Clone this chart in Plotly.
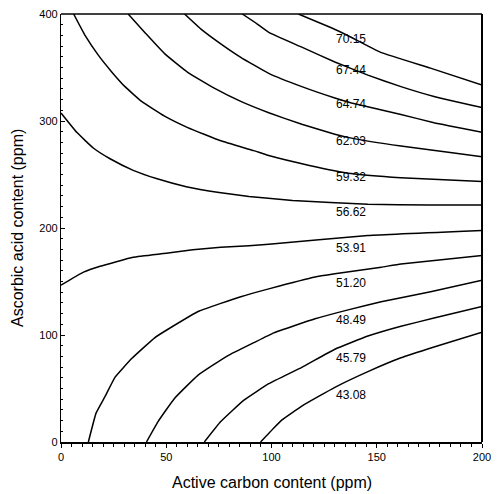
import plotly.graph_objects as go

# Contour levels (labels, top to bottom)
levels = ["70.15", "67.44", "64.74", "62.03", "59.32", "56.62",
          "53.91", "51.20", "48.49", "45.79", "43.08"]

# Contour lines (x = active carbon, y = ascorbic acid)
c7015_x = [112.8, 128.4, 136.4, 151.9, 175.5, 200]
c7015_y = [400, 387.1, 379.7, 364.1, 349.4, 333.7]

c6744_x = [86.1, 93.1, 98.7, 114.4, 130.1, 145.8, 161.5, 177.2, 200]
c6744_y = [400, 390.8, 382.8, 369.0, 355.2, 342.9, 332.1, 322.9, 312.5]

c6474_x = [58.7, 66.5, 75.9, 85.4, 98.7, 114.4, 130.1, 138.0, 161.5, 177.2, 200]
c6474_y = [400, 385.9, 372.1, 359.5, 344.5, 332.1, 321.5, 316.9, 306.1, 298.4, 289.5]

c6203_x = [31.9, 39.8, 49.2, 60.2, 72.8, 85.4, 98.7, 114.4, 130.1, 138.0, 161.5, 186.7, 200]
c6203_y = [400, 382.8, 363.0, 345.5, 330.7, 318.3, 307.7, 296.9, 287.7, 284.0, 276.6, 270.2, 266.5]

c5932_x = [6.0, 11.5, 17.8, 24.1, 30.4, 38.3, 49.2, 60.2, 75.9, 91.6, 98.7, 118.0, 137.8, 161.4, 200]
c5932_y = [400, 379.7, 361.3, 345.9, 332.1, 318.3, 304.5, 293.8, 281.5, 272.3, 267.7, 258.5, 250.9, 246.9, 243.5]

c5662_x = [0, 7.6, 15.5, 23.3, 34.3, 45.3, 59.5, 75.1, 89.3, 110.0, 145.8, 175.0, 200]
c5662_y = [307.5, 289.2, 274.5, 264.7, 253.9, 246.2, 238.6, 233.1, 229.5, 225.8, 222.3, 221.5, 221.4]

c5391_x = [0, 10.7, 18.6, 34.3, 50.0, 62.6, 75.9, 89.3, 98.7, 145.8, 200]
c5391_y = [146.6, 158.8, 164.3, 172.6, 176.3, 179.7, 182.0, 183.4, 184.8, 193.0, 197.7]

c5120_x = [13.0, 16.7, 21.0, 25.7, 33.7, 44.5, 51.6, 65.7, 85.4, 98.7, 120.7, 130.1, 152.1, 161.5, 200]
c5120_y = [0, 27.2, 42.8, 60.6, 78.2, 97.4, 106.3, 122.4, 135.8, 143.1, 154.2, 157.2, 163.4, 166.4, 174.3]

c4849_x = [40.6, 46.1, 53.9, 64.9, 79.1, 91.6, 101.1, 120.7, 136.4, 152.1, 175.6, 200]
c4849_y = [0, 19.1, 40.7, 62.1, 80.5, 92.8, 102.0, 115.1, 123.5, 131.0, 140.5, 151.2]

c4579_x = [68.1, 75.9, 86.9, 98.7, 114.4, 130.1, 145.8, 161.5, 177.2, 200]
c4579_y = [0, 19.1, 39.1, 54.5, 69.8, 86.7, 99.0, 108.2, 115.8, 126.6]

c4308_x = [94.8, 101.1, 105.0, 114.4, 130.1, 145.8, 161.5, 177.2, 200]
c4308_y = [0, 13.1, 20.7, 33.6, 51.1, 65.8, 78.7, 88.8, 102.6]

# Contour label anchors
label_x = 138.0
label_y = [377.0, 347.5, 316.2, 281.2, 248.1, 214.9, 181.3, 148.7, 113.7, 78.7, 43.7]

x_ticks = [0, 50, 100, 150, 200]
y_ticks = [0, 100, 200, 300, 400]
x_title = "Active carbon content (ppm)"
y_title = "Ascorbic acid content (ppm)"

lines = [(c7015_x, c7015_y), (c6744_x, c6744_y), (c6474_x, c6474_y),
         (c6203_x, c6203_y), (c5932_x, c5932_y), (c5662_x, c5662_y),
         (c5391_x, c5391_y), (c5120_x, c5120_y), (c4849_x, c4849_y),
         (c4579_x, c4579_y), (c4308_x, c4308_y)]

FONT = "Liberation Sans, Arial, sans-serif"

fig = go.Figure()
for (lx, ly), name in zip(lines, levels):
    fig.add_trace(go.Scatter(x=lx, y=ly, mode="lines", name=name,
                             line=dict(color="black", width=1.5, shape="spline", smoothing=0.35),
                             hoverinfo="skip", showlegend=False))

annotations = []
for name, ly in zip(levels, label_y):
    annotations.append(dict(x=label_x, y=ly, xref="x", yref="y", text=name,
                            showarrow=False, font=dict(family=FONT, size=12, color="black")))

annotations.append(dict(x=0.5, y=0, xref="paper", yref="paper", text=x_title,
                        showarrow=False, yanchor="middle", yshift=-40,
                        font=dict(family=FONT, size=16, color="black")))
annotations.append(dict(x=0, y=0.5, xref="paper", yref="paper", text=y_title,
                        showarrow=False, xanchor="center", xshift=-44, textangle=-90,
                        font=dict(family=FONT, size=16, color="black")))

fig.update_layout(
    width=499, height=494,
    margin=dict(l=61, r=14, t=8, b=52),
    paper_bgcolor="white", plot_bgcolor="white",
    annotations=annotations,
    shapes=[
        dict(type="line", xref="paper", yref="paper", x0=0, x1=1, y0=1, y1=1,
             line=dict(color="black", width=1.3)),
        dict(type="line", xref="paper", yref="paper", x0=1, x1=1, y0=0, y1=1,
             line=dict(color="black", width=2)),
    ],
)
fig.update_xaxes(range=[0, 200], tickvals=x_ticks, ticks="outside", ticklen=4,
                 tickcolor="black", tickwidth=1, showline=True, linecolor="black",
                 linewidth=2, showgrid=False, zeroline=False,
                 tickfont=dict(family=FONT, size=11, color="black"),
                 minor=dict(dtick=5, ticks="outside", ticklen=3, tickcolor="black", showgrid=False))
fig.update_yaxes(range=[0, 400], tickvals=y_ticks, ticks="inside", ticklen=4,
                 tickcolor="black", tickwidth=1, showline=True, linecolor="black",
                 linewidth=1.2, showgrid=False, zeroline=False,
                 tickfont=dict(family=FONT, size=11, color="black"),
                 minor=dict(dtick=10, ticks="inside", ticklen=2, tickcolor="black", showgrid=False))

fig.write_html("out.html")
